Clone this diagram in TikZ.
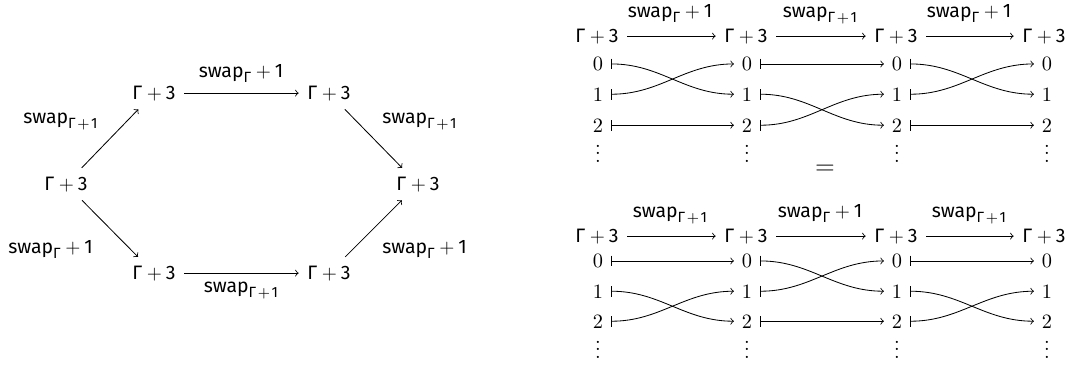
\documentclass[tikz,border=0pt]{standalone}
\usepackage{fontspec}
\setmainfont{Fira Sans}
\newfontfamily\lmr{Latin Modern Roman}
\newcommand\gthree{Γ\hspace{0.24em}{\lmr+}\hspace{0.2em}3}
\newcommand\swsub[1]{swap\raisebox{-0.3em}{\fontsize{8}{9}\selectfont #1}}
\newcommand\swa{\swsub{Γ}\hspace{0.24em}{\lmr+}\hspace{0.2em}1}
\newcommand\swb{\swsub{Γ\hspace{0.12em}{\lmr+}\hspace{0.1em}1}}
\begin{document}
\begin{tikzpicture}[x=0.54pt,y=-0.54pt,
  txt/.style={font=\fontsize{10.5}{12}\selectfont, inner sep=0pt, anchor=base},
  obj/.style={font=\fontsize{10.5}{12}\selectfont, inner sep=4.5pt, anchor=base},
  robj/.style={font=\fontsize{10.5}{12}\selectfont, inner xsep=4.5pt, inner ysep=0.5pt, anchor=base},
  dig/.style={font=\lmr\fontsize{11}{12}\selectfont, inner xsep=4.1pt, inner ysep=0.3pt, anchor=base},
  dts/.style={font=\lmr\fontsize{11}{12}\selectfont, inner sep=0pt, anchor=base},
  mp/.style={|->, line width=0.45pt},
  ar/.style={->, line width=0.45pt}]
\useasboundingbox (0,0) rectangle (1079,367);
% left hexagon
\node[obj] (L)  at (66,190) {\gthree};
\node[obj] (TL) at (154,99) {\gthree};
\node[obj] (TR) at (329,99) {\gthree};
\node[obj] (R)  at (418,190) {\gthree};
\node[obj] (BL) at (154,279) {\gthree};
\node[obj] (BR) at (329,279) {\gthree};
\draw[ar] (L) -- (TL);
\draw[ar] (TL) -- (TR);
\draw[ar] (TR) -- (R);
\draw[ar] (L) -- (BL);
\draw[ar] (BL) -- (BR);
\draw[ar] (BR) -- (R);
\node[txt] (l1) at (241,77) {\swa};
\node[txt] (l2) at (241,292) {\swb};
\node[txt, anchor=base west] (l3) at (23,123) {\swb};
\node[txt, anchor=base west] (l4) at (8,253) {\swa};
\node[txt, anchor=base west] (l5) at (382,123) {\swb};
\node[txt, anchor=base west] (l6) at (382,253) {\swa};
% right rows
\foreach \c/\x in {1/597,2/746,3/896,4/1044} {
  \node[robj] (T\c) at (\x,42) {\gthree};
  \node[robj] (B\c) at (\x,242) {\gthree};
}
\foreach \c/\x in {1/598,2/747,3/897,4/1047} {
  \node[dig] (t\c0) at (\x,70.5) {0};
  \node[dig] (t\c1) at (\x,101) {1};
  \node[dig] (t\c2) at (\x,132) {2};
  \node[dts] (tv\c) at (\x,162) {\smash{$\vdots$}};
  \node[dig] (b\c0) at (\x,267.5) {0};
  \node[dig] (b\c1) at (\x,298) {1};
  \node[dig] (b\c2) at (\x,328) {2};
  \node[dts] (bv\c) at (\x,358) {\smash{$\vdots$}};
}
\draw[ar] (T1) -- (T2);
\draw[ar] (T2) -- (T3);
\draw[ar] (T3) -- (T4);
\draw[ar] (B1) -- (B2);
\draw[ar] (B2) -- (B3);
\draw[ar] (B3) -- (B4);
\node[txt] (u1) at (670,17) {\swa};
\node[txt] (u2) at (820,17) {\swb};
\node[txt] (u3) at (969,17) {\swa};
\node[txt] (d1) at (670,217) {\swb};
\node[txt] (d2) at (820,217) {\swa};
\node[txt] (d3) at (969,217) {\swb};
\node[font=\lmr\fontsize{14}{14}\selectfont, inner sep=0pt] (eq) at (825,170) {=};
% top maps
\draw[mp] (t10) to[out=0,in=180] (t21);
\draw[mp] (t11) to[out=0,in=180] (t20);
\draw[mp] (t12) to[out=0,in=180] (t22);
\draw[mp] (t20) to[out=0,in=180] (t30);
\draw[mp] (t21) to[out=0,in=180] (t32);
\draw[mp] (t22) to[out=0,in=180] (t31);
\draw[mp] (t30) to[out=0,in=180] (t41);
\draw[mp] (t31) to[out=0,in=180] (t40);
\draw[mp] (t32) to[out=0,in=180] (t42);
% bottom maps
\draw[mp] (b10) to[out=0,in=180] (b20);
\draw[mp] (b11) to[out=0,in=180] (b22);
\draw[mp] (b12) to[out=0,in=180] (b21);
\draw[mp] (b20) to[out=0,in=180] (b31);
\draw[mp] (b21) to[out=0,in=180] (b30);
\draw[mp] (b22) to[out=0,in=180] (b32);
\draw[mp] (b30) to[out=0,in=180] (b40);
\draw[mp] (b31) to[out=0,in=180] (b42);
\draw[mp] (b32) to[out=0,in=180] (b41);
\end{tikzpicture}
\end{document}
